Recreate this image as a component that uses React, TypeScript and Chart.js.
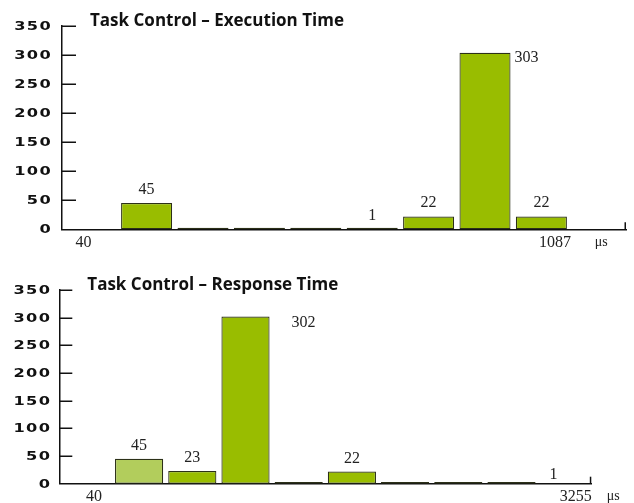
import React, { useEffect, useRef } from 'react';
import { Chart, registerables } from 'chart.js';

Chart.register(...registerables);

// ---- data ----
const execTitle = 'Task Control – Execution Time';
const respTitle = 'Task Control – Response Time';
const binSlots = [1, 2, 3, 4, 5, 6, 7, 8];
const execCounts = [45, 0, 0, 0, 1, 22, 303, 22];
const respCounts = [45, 23, 302, 0, 22, 0, 0, 1];
const execAxisLabels = ['40', '1087', 'μs'];
const respAxisLabels = ['40', '3255', 'μs'];
const yTickValues = [0, 50, 100, 150, 200, 250, 300, 350];

const BAR = '#99bd00';
const BAR_LIGHT = '#b2cd5c';
const INK = '#111111';

const decorPlugin = {
  id: 'decor',
  afterDraw(chart: any, _args: any, opts: any) {
    const { ctx, chartArea: ca } = chart;
    const xs = chart.scales.x;
    const ys = chart.scales.y;
    ctx.save();
    // y tick marks (inward) and labels
    ctx.strokeStyle = INK;
    ctx.lineWidth = 1.5;
    ctx.fillStyle = INK;
    ctx.font = 'bold 12px "DejaVu Sans"';
    ctx.textBaseline = 'middle';
    ctx.textAlign = 'right';
    for (const t of ys.ticks) {
      const y = Math.round(ys.getPixelForValue(t.value)) + 0.25;
      if (t.value !== 0) {
        ctx.beginPath();
        ctx.moveTo(ca.left, y);
        ctx.lineTo(ca.left + opts.tickLen, y);
        ctx.stroke();
      }
      ctx.save();
      ctx.translate(ca.left - opts.labelGap, y);
      ctx.scale(1.35, 1);
      (ctx as any).letterSpacing = '1px';
      ctx.fillText(String(t.value), 0, 0.5);
      ctx.restore();
    }
    // end tick of x axis
    ctx.beginPath();
    ctx.moveTo(xs.right - 0.75, ca.bottom);
    ctx.lineTo(xs.right - 0.75, ca.bottom - 7);
    ctx.stroke();
    // x labels
    ctx.textAlign = 'center';
    ctx.textBaseline = 'middle';
    opts.axisLabels.forEach((lab: string, i: number) => {
      ctx.font = i === opts.axisLabels.length - 1 ? '14px "Liberation Serif"' : '16px "Liberation Serif"';
      ctx.fillStyle = '#222';
      ctx.fillText(lab, xs.getPixelForValue(opts.axisLabelAt[i]), ca.bottom + 13);
    });
    // value labels
    const meta = chart.getDatasetMeta(0);
    const values = chart.data.datasets[0].data;
    ctx.font = '16px "Liberation Serif"';
    ctx.fillStyle = '#222';
    meta.data.forEach((el: any, i: number) => {
      const v = values[i].y;
      if (!v) return;
      const side = opts.sideLabels[i];
      if (side) {
        ctx.textAlign = 'left';
        ctx.textBaseline = 'middle';
        ctx.fillText(String(v), el.x + el.width / 2 + side.dx, ys.getPixelForValue(v) + side.dy);
      } else {
        ctx.textAlign = 'center';
        ctx.textBaseline = 'alphabetic';
        ctx.fillText(String(v), el.x, ys.getPixelForValue(v) - 9);
      }
    });
    // title
    ctx.font = 'bold 17px "Open Sans"';
    ctx.fillStyle = INK;
    ctx.textAlign = 'left';
    ctx.textBaseline = 'alphabetic';
    ctx.fillText(opts.title, ca.left + 28, ca.top);
    ctx.restore();
  },
};

function makeConfig(
  title: string,
  counts: number[],
  colors: string[],
  axisLabels: string[],
  axisLabelAt: number[],
  sideLabels: Record<number, { dx: number; dy: number }>,
  padding: { left: number; right: number; top: number; bottom: number },
  tickLen: number,
  labelGap: number,
): any {
  return {
    type: 'bar',
    data: {
      datasets: [
        {
          data: binSlots.map((s, i) => ({ x: s, y: counts[i] })),
          backgroundColor: colors,
          borderColor: '#2c3018',
          borderWidth: 1.2,
          borderSkipped: false,
          minBarLength: 1.6,
          categoryPercentage: 1,
          barPercentage: 0.905,
        },
      ],
    },
    options: {
      responsive: false,
      animation: false,
      layout: { padding },
      plugins: {
        legend: { display: false },
        tooltip: { enabled: false },
        title: { display: false },
        decor: { title, axisLabels, axisLabelAt, sideLabels, tickLen, labelGap },
      },
      scales: {
        x: {
          type: 'linear',
          min: -0.5,
          max: 9.5,
          offset: false,
          grid: { display: false, drawTicks: false },
          ticks: { display: false },
          border: { display: true, color: INK, width: 1.5 },
        },
        y: {
          type: 'linear',
          min: 0,
          max: 350,
          afterBuildTicks: (s: any) => {
            s.ticks = yTickValues.map((v) => ({ value: v }));
          },
          grid: { display: false, drawTicks: false },
          ticks: { display: false },
          border: { display: true, color: INK, width: 1.5 },
        },
      },
    },
    plugins: [decorPlugin],
  };
}

function ChartCanvas({ config, top, height }: { config: any; top: number; height: number }) {
  const ref = useRef<HTMLCanvasElement | null>(null);
  useEffect(() => {
    if (!ref.current) return;
    const chart = new Chart(ref.current, config);
    return () => chart.destroy();
  }, [config]);
  return (
    <canvas
      ref={ref}
      width={634}
      height={height}
      style={{ position: 'absolute', left: 0, top, width: 634, height, display: 'block' }}
    />
  );
}

const execConfig = makeConfig(
  execTitle,
  execCounts,
  execCounts.map(() => BAR),
  execAxisLabels,
  [-0.12, 8.24, 9.06],
  { 6: { dx: 4, dy: 5 } },
  { left: 62, right: 8, top: 25.5, bottom: 20.7 },
  14,
  10,
);

const respConfig = makeConfig(
  respTitle,
  respCounts,
  respCounts.map((_, i) => (i === 0 ? BAR_LIGHT : BAR)),
  respAxisLabels,
  [0.15, 9.21, 9.91],
  { 2: { dx: 22, dy: 6.5 }, 7: { dx: 14, dy: -8 } },
  { left: 59.3, right: 42.7, top: 40, bottom: 19.3 },
  13,
  8,
);

export default function App() {
  return (
    <div style={{ position: 'absolute', left: 0, top: 0, width: 634, height: 503, background: '#fff' }}>
      <ChartCanvas config={execConfig} top={0} height={250} />
      <ChartCanvas config={respConfig} top={250} height={253} />
    </div>
  );
}
